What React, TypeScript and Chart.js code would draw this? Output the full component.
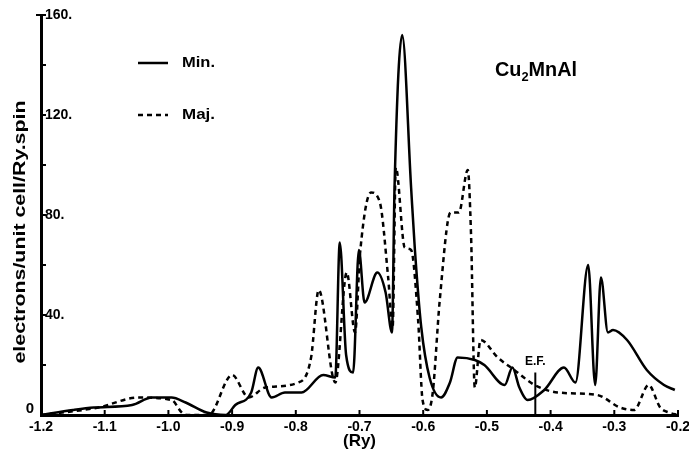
import React, { useEffect, useRef } from "react";
import { Chart, registerables } from "chart.js";

Chart.register(...registerables);

// Minority-spin (solid) density of states
const minX = [-1.2, -1.15, -1.117, -1.057, -1.026, -0.995, -0.973, -0.94, -0.91, -0.895, -0.87, -0.859, -0.838, -0.817, -0.791, -0.757, -0.738, -0.731, -0.721, -0.71, -0.701, -0.692, -0.672, -0.659, -0.649, -0.645, -0.633, -0.619, -0.613, -0.603, -0.59, -0.572, -0.558, -0.546, -0.519, -0.504, -0.472, -0.46, -0.449, -0.436, -0.41, -0.379, -0.361, -0.341, -0.33, -0.321, -0.31, -0.302, -0.28, -0.249, -0.222, -0.205];
const minY = [0, 2, 3, 4, 7, 7, 5, 1, 0, 4, 9, 19, 7, 9, 9, 16, 15, 69, 24, 17, 66, 45, 57, 49, 33, 91, 152, 91, 66, 35, 15, 7, 13, 23, 22, 20, 12, 19, 11, 6, 10, 19, 13, 60, 12, 55, 33, 34, 30, 18, 12, 10];

// Majority-spin (dashed) density of states
const majX = [-1.2, -1.11, -1.047, -0.995, -0.979, -0.97, -0.937, -0.9, -0.874, -0.848, -0.796, -0.776, -0.764, -0.738, -0.72, -0.707, -0.699, -0.682, -0.668, -0.655, -0.648, -0.643, -0.629, -0.619, -0.608, -0.601, -0.593, -0.585, -0.574, -0.557, -0.544, -0.53, -0.525, -0.519, -0.51, -0.483, -0.457, -0.425, -0.389, -0.327, -0.291, -0.269, -0.246, -0.228, -0.214, -0.2];
const majY = [0, 3, 7, 6, 1, 0, 0, 16, 7, 11, 13, 23, 50, 13, 57, 33, 65, 89, 85, 55, 35, 99, 67, 66, 38, 6, 2, 9, 46, 81, 81, 98, 73, 11, 30, 23, 18, 12, 9, 8, 3, 2, 12, 3, 1, 0];

const seriesNames = ["Min.", "Maj."];
const xRange = [-1.2, -0.2];
const yRange = [0, 160];
const xStep = 0.1;
const yStep = 20;
const yLabelEvery = 40;
const efX = -0.424;
const efTop = 17;
const efLabel = "E.F.";
const titleParts = ["Cu", "2", "MnAl"];
const yTitle = "electrons/unit cell/Ry.spin";
const xTitle = "(Ry)";
const zeroLabel = "0";

const FONT = "'Liberation Sans', Arial, sans-serif";

function stretchText(
  ctx: CanvasRenderingContext2D,
  text: string,
  x: number,
  y: number,
  target: number
) {
  const w = ctx.measureText(text).width;
  ctx.save();
  ctx.translate(x, y);
  ctx.scale(target / w, 1);
  ctx.fillText(text, 0, 0);
  ctx.restore();
}

const overlay = {
  id: "overlay",
  afterDraw(chart: any) {
    const ctx = chart.ctx as CanvasRenderingContext2D;
    const xs = chart.scales.x;
    const ys = chart.scales.y;
    const area = chart.chartArea;
    ctx.save();
    ctx.strokeStyle = "#000";
    ctx.fillStyle = "#000";
    ctx.lineWidth = 2;
    ctx.setLineDash([]);
    // x tick marks (inward)
    xs.ticks.forEach((t: any) => {
      const px = xs.getPixelForValue(t.value);
      ctx.beginPath();
      ctx.moveTo(px, area.bottom);
      ctx.lineTo(px, area.bottom - 5);
      ctx.stroke();
    });
    // y tick marks (inward)
    ys.ticks.forEach((t: any) => {
      const py = ys.getPixelForValue(t.value);
      ctx.beginPath();
      ctx.moveTo(area.left, py);
      ctx.lineTo(area.left + 5, py);
      ctx.stroke();
    });
    // small hook at top of y axis
    ctx.beginPath();
    ctx.moveTo(area.left - 5, area.top);
    ctx.lineTo(area.left, area.top);
    ctx.stroke();

    // zero label left of axis
    ctx.font = `bold 15px ${FONT}`;
    ctx.textAlign = "right";
    ctx.textBaseline = "middle";
    ctx.fillText(zeroLabel, area.left - 7, ys.getPixelForValue(0) - 6);

    // y title
    ctx.save();
    ctx.translate(20, 232);
    ctx.rotate(-Math.PI / 2);
    ctx.font = `bold 17px ${FONT}`;
    ctx.textAlign = "center";
    ctx.textBaseline = "middle";
    stretchText(ctx, yTitle, 0, 0, 263);
    ctx.restore();

    // legend
    ctx.lineWidth = 2.5;
    ctx.beginPath();
    ctx.moveTo(138, 63);
    ctx.lineTo(168, 63);
    ctx.stroke();
    ctx.setLineDash([5, 4]);
    ctx.beginPath();
    ctx.moveTo(138, 115);
    ctx.lineTo(168, 115);
    ctx.stroke();
    ctx.setLineDash([]);
    ctx.font = `bold 15px ${FONT}`;
    ctx.textAlign = "left";
    ctx.textBaseline = "middle";
    stretchText(ctx, seriesNames[0], 182, 63, 33);
    stretchText(ctx, seriesNames[1], 182, 115, 33);

    // title Cu2MnAl
    const big = `bold 20px ${FONT}`;
    const small = `bold 13px ${FONT}`;
    ctx.font = big;
    const w0 = ctx.measureText(titleParts[0]).width;
    const w2 = ctx.measureText(titleParts[2]).width;
    ctx.font = small;
    const w1 = ctx.measureText(titleParts[1]).width;
    const total = w0 + w1 + w2;
    const sx = 82 / total;
    ctx.save();
    ctx.translate(495, 70);
    ctx.scale(sx, 1);
    ctx.textAlign = "left";
    ctx.textBaseline = "middle";
    ctx.font = big;
    ctx.fillText(titleParts[0], 0, 0);
    ctx.font = small;
    ctx.fillText(titleParts[1], w0, 7);
    ctx.font = big;
    ctx.fillText(titleParts[2], w0 + w1, 0);
    ctx.restore();

    // E.F. marker
    const ex = xs.getPixelForValue(efX);
    ctx.lineWidth = 2;
    ctx.beginPath();
    ctx.moveTo(ex, ys.getPixelForValue(0));
    ctx.lineTo(ex, ys.getPixelForValue(efTop));
    ctx.stroke();
    ctx.font = `bold 12px ${FONT}`;
    ctx.textAlign = "center";
    ctx.textBaseline = "bottom";
    ctx.fillText(efLabel, ex, ys.getPixelForValue(efTop) - 5);
    ctx.restore();
  },
};

export default function App() {
  const ref = useRef<HTMLCanvasElement | null>(null);
  useEffect(() => {
    document.body.style.margin = "0";
    const canvas = ref.current;
    if (!canvas) return;
    const chart = new Chart(canvas, {
      type: "line",
      data: {
        datasets: [
          {
            label: seriesNames[0],
            data: minX.map((x, i) => ({ x, y: minY[i] })),
            borderColor: "#000",
            borderWidth: 2.5,
            pointRadius: 0,
            fill: false,
            cubicInterpolationMode: "monotone",
          },
          {
            label: seriesNames[1],
            data: majX.map((x, i) => ({ x, y: majY[i] })),
            borderColor: "#000",
            borderWidth: 2.5,
            borderDash: [5, 4],
            pointRadius: 0,
            fill: false,
            cubicInterpolationMode: "monotone",
          },
        ],
      },
      options: {
        animation: false,
        responsive: false,
        devicePixelRatio: 1,
        layout: { padding: { top: 15, right: 11, left: 0, bottom: 0 } },
        plugins: { legend: { display: false }, tooltip: { enabled: false } },
        scales: {
          x: {
            type: "linear",
            min: xRange[0],
            max: xRange[1],
            afterFit: (s: any) => {
              s.height = 38;
              s.paddingLeft = 0;
              s.paddingRight = 0;
            },
            ticks: {
              stepSize: xStep,
              autoSkip: false,
              maxRotation: 0,
              padding: 4,
              color: "#000",
              font: { family: FONT, size: 14, weight: "bold" },
              callback: (v: any) => (Math.round(Number(v) * 10) / 10).toFixed(1),
            },
            grid: { display: false, drawTicks: false },
            border: { display: true, color: "#000", width: 3 },
            title: {
              display: true,
              text: xTitle,
              color: "#000",
              font: { family: FONT, size: 17, weight: "bold" },
              padding: { top: 0, bottom: 1 },
            },
          },
          y: {
            min: yRange[0],
            max: yRange[1],
            afterFit: (s: any) => {
              s.width = 41;
              s.paddingTop = 0;
              s.paddingBottom = 0;
            },
            ticks: {
              stepSize: yStep,
              mirror: true,
              padding: 4,
              color: "#000",
              font: { family: FONT, size: 14, weight: "bold" },
              callback: (v: any) => {
                const n = Number(v);
                return n !== 0 && n % yLabelEvery === 0 ? `${n}.` : "";
              },
            },
            grid: { display: false, drawTicks: false },
            border: { display: true, color: "#000", width: 3 },
          },
        },
      },
      plugins: [overlay],
    } as any);
    return () => chart.destroy();
  }, []);
  return <canvas ref={ref} width={689} height={453} style={{ display: "block", width: 689, height: 453 }} />;
}
